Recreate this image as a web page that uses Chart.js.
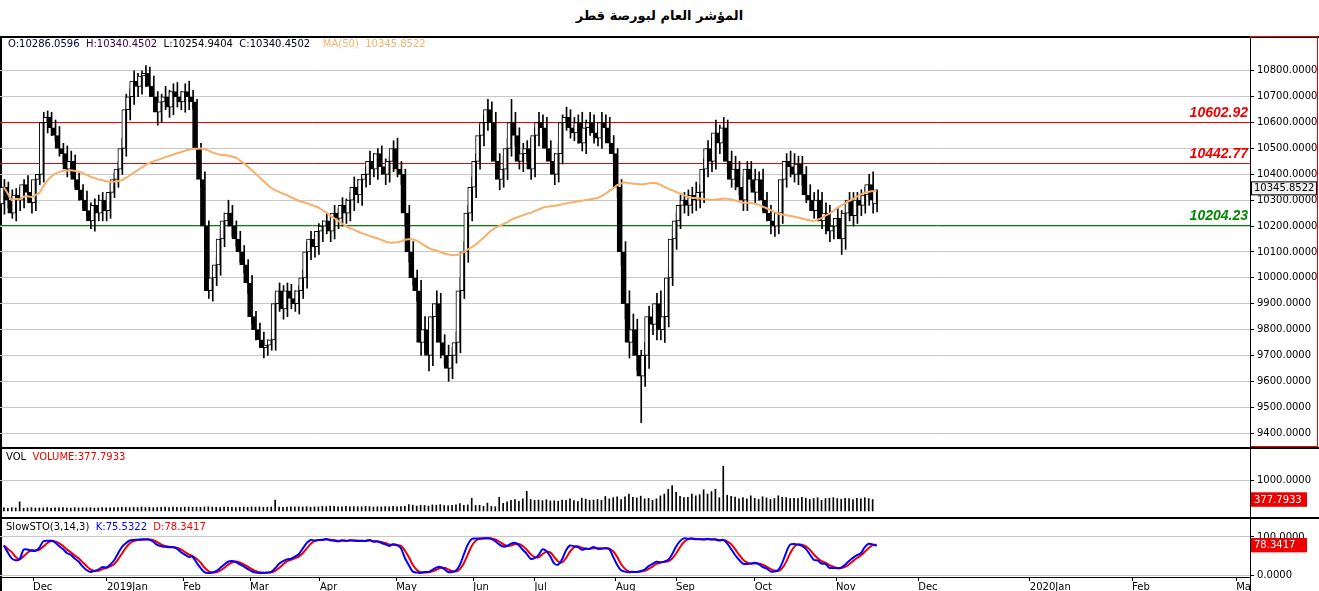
<!DOCTYPE html>
<html><head><meta charset="utf-8">
<script src="https://cdn.jsdelivr.net/npm/chart.js@4/dist/chart.umd.min.js"></script>
<style>
body{margin:0;width:1319px;height:591px;background:#fff;position:relative;overflow:hidden;font-family:Tahoma,"DejaVu Sans",sans-serif}
.cv{position:absolute;left:0;width:1319px}
.txt{position:absolute;font-size:10px;white-space:pre}
.hl{position:absolute;background:#000}
</style></head><body>
<div class="txt" style="left:0;width:1319px;top:8px;text-align:center;font-size:13px;font-weight:bold;font-family:'DejaVu Sans',sans-serif">المؤشر العام لبورصة قطر</div>
<div style="position:absolute;left:0;top:36px;width:1319px;height:2px;background:#000"></div>
<div style="position:absolute;left:1250px;top:36px;width:68px;height:411px;border:1px solid #e00;box-sizing:border-box"></div>
<div class="hl" style="left:0;top:447px;width:1319px;height:2px"></div>
<div class="hl" style="left:0;top:517px;width:1319px;height:2px"></div>
<div class="hl" style="left:0;top:36px;width:2px;height:555px"></div>
<div style="position:absolute;left:0;top:38px;height:409px" class="cv"><canvas id="c1"></canvas></div>
<div style="position:absolute;left:0;top:449px;height:68px" class="cv"><canvas id="c2"></canvas></div>
<div style="position:absolute;left:0;top:519px;height:72px" class="cv"><canvas id="c3"></canvas></div>
<div class="txt" style="left:8px;top:38px"><span style="color:#000040">O:10286.0596</span>  <span style="color:#400040">H:10340.4502</span>  <span>L:10254.9404</span>  <span style="color:#000020">C:10340.4502</span>    <span style="color:#f7b06a">MA(50)  10345.8522</span></div>
<div class="txt" style="left:6px;top:451px">VOL  <span style="color:#e00">VOLUME:377.7933</span></div>
<div class="txt" style="left:6px;top:521px">SlowSTO(3,14,3)  <span style="color:#00f">K:75.5322</span>  <span style="color:#e00">D:78.3417</span></div>
<script>
const closes=[10350,10300,10250,10320,10300,10360,10330,10290,10380,10400,
10600,10620,10580,10550,10500,10480,10420,10450,10380,10340,10300,10260,10220,10280,10250,
10300,10260,10330,10380,10420,10500,10650,10700,10760,10740,10780,10790,10740,10700,10640,
10680,10700,10660,10720,10700,10680,10720,10700,10680,10500,10380,10200,9950,10000,
10050,10150,10220,10250,10200,10150,10100,10050,9980,9850,9800,9760,9730,9740,9760,
9900,9950,9880,9950,9920,9900,9950,10000,10100,10150,10120,10180,
10200,10220,10180,10250,10230,10280,10250,10300,10350,10320,10380,10400,10450,10420,10480,10430,
10400,10450,10500,10420,10400,10250,10100,10000,9950,
9750,9800,9700,9850,9900,9750,9700,9650,9700,9750,9950,10100,10250,10350,10450,10550,10600,10650,
10600,10450,10380,10420,10500,10600,10550,10450,10480,10500,10420,10550,10600,10580,10500,10450,10400,10480,
10600,10620,10580,10560,10600,10520,10580,10600,10560,10540,10600,10580,10520,10480,10350,10100,9900,
9750,9800,9700,9620,9700,9850,9820,9900,9800,9850,10000,10150,10220,10280,
10300,10280,10320,10300,10330,10420,10500,10450,10560,10520,10580,10450,10380,10420,10350,10300,
10420,10380,10330,10380,10300,10250,10220,10200,10250,10380,10450,10430,10400,10440,
10400,10320,10300,10260,10300,10220,10250,10180,10200,10230,10150,10250,10300,
10240,10300,10280,10320,10360,10300,10340];
const wickUp=[30,20,40,25,30,20,35,40,20,30,40,25,20,30,35,20,30,40,25,30,20,35,30,25,40,
30,20,35,25,30,40,60,30,40,30,20,30,25,40,20,30,40,25,30,35,20,30,40,25,10,20,30,20,40,
30,40,30,50,30,20,30,25,20,30,20,25,30,20,30,40,30,20,30,25,30,20,30,40,30,20,30,
20,30,25,30,20,30,25,30,40,30,20,30,40,30,20,30,30,20,30,40,30,20,30,40,30,
40,50,30,40,50,40,30,40,30,40,50,40,30,40,30,40,30,40,
30,40,30,50,40,90,40,30,40,30,40,30,40,30,40,30,30,40,
30,40,30,40,30,40,30,40,30,20,40,30,40,30,20,30,40,
50,60,40,20,50,40,30,40,50,40,30,40,30,40,30,
40,30,50,30,40,30,40,50,30,40,30,40,50,30,40,30,
30,40,30,40,30,30,20,20,30,30,40,50,30,30,
30,40,30,40,30,40,30,30,40,30,40,30,30,
30,40,30,40,50,30,0];
const wickDn=[40,30,20,30,40,30,20,40,30,20,30,40,30,20,30,40,30,20,30,40,30,20,30,40,30,
30,40,30,20,30,20,30,40,30,40,30,40,30,40,50,40,30,40,30,40,30,40,50,30,40,30,40,30,40,
30,40,30,20,40,30,40,30,40,30,40,30,40,30,20,40,30,40,30,40,30,40,30,40,30,40,30,
40,30,40,30,40,30,40,30,40,30,40,30,40,30,40,30,40,30,40,30,40,50,40,30,40,
50,40,60,40,30,60,40,50,40,30,40,30,40,30,40,30,40,30,
40,30,40,30,40,30,40,30,40,30,40,30,40,30,40,30,40,30,
40,30,40,30,40,30,40,30,40,30,40,30,40,30,40,50,60,
60,50,60,180,40,50,40,60,40,50,40,30,40,30,
30,40,30,40,30,40,30,40,30,40,30,40,30,40,30,40,
40,30,40,30,40,30,50,40,30,40,30,40,30,40,
40,30,40,30,40,30,50,40,30,40,60,40,30,
40,30,40,30,40,50,85];
const volumes=[100,90,110,100,300,90,100,110,95,100,100,110,95,105,100,110,100,95,110,100,105,100,110,95,100,
110,105,100,115,110,120,115,110,120,115,130,115,120,110,115,120,125,110,130,120,115,125,130,120,
125,120,130,135,125,120,115,125,130,120,115,125,130,120,135,125,130,120,125,130,360,
130,120,125,140,130,135,130,140,125,135,130,150,140,160,150,140,135,150,140,145,
140,135,150,145,130,140,135,145,140,150,140,145,150,210,190,160,190,180,160,200,190,210,180,170,190,
200,240,190,200,420,180,190,150,
260,150,140,450,250,300,350,380,320,400,650,380,350,360,340,370,330,340,
320,360,350,400,340,310,420,390,350,360,380,350,480,400,440,470,380,
470,560,450,430,490,400,420,350,400,500,560,720,840,620,480,440,450,560,500,
540,700,560,640,720,440,1480,520,480,460,400,
440,400,500,420,380,470,430,380,410,500,450,440,410,420,
410,450,420,380,410,440,350,410,420,440,410,390,420,
410,380,420,400,440,410,378];
const maPeriod=50;
const levels=[10602.92,10442.77,10204.23];
const levelColors=['#e00','#e00','#080'];
const monthTicks=[7.4,26.2,45.6,62.6,80.4,99.8,119.4,135,155.7,171,191,211.7,232.6,261,287,313.5];
const monthLabels=['Dec','2019Jan','Feb','Mar','Apr','May','Jun','Jul','Aug','Sep','Oct','Nov','Dec','2020Jan','Feb','Ma'];

const N=closes.length;
const opens=closes.map((c,i)=>i===0?10286:closes[i-1]);
const highs=closes.map((c,i)=>Math.max(c,opens[i])+wickUp[i]);
const lows=closes.map((c,i)=>Math.min(c,opens[i])-wickDn[i]);
opens[N-1]=10286.0596; highs[N-1]=10340.4502; lows[N-1]=10254.9404; closes[N-1]=10340.4502;
const ma=closes.map((c,i)=>{const s=closes.slice(Math.max(0,i-maPeriod+1),i+1);return s.reduce((a,b)=>a+b,0)/s.length;});
const raw=closes.map((c,i)=>{const hh=Math.max(...highs.slice(Math.max(0,i-13),i+1)),ll=Math.min(...lows.slice(Math.max(0,i-13),i+1));return (c-ll)/(hh-ll)*100;});
const sma=(a,n)=>a.map((v,i)=>{const s=a.slice(Math.max(0,i-n+1),i+1);return s.reduce((x,y)=>x+y,0)/s.length;});
const kLine=sma(raw,3), dLine=sma(kLine,3);

Chart.defaults.font.family='Tahoma, "DejaVu Sans", sans-serif';
Chart.defaults.font.size=10;
Chart.defaults.color='#000';
Chart.defaults.animation=false;
Chart.defaults.responsive=true;
Chart.defaults.maintainAspectRatio=false;

const xScale=(show)=>({type:'linear',min:-1,max:317,display:show,offset:false,
  grid:{drawOnChartArea:false,color:'#000',tickLength:4},border:{color:'#000'},
  afterBuildTicks:s=>{s.ticks=monthTicks.map(v=>({value:v}));},
  ticks:{autoSkip:false,maxRotation:0,align:'start',padding:0,callback:(v)=>monthLabels[monthTicks.indexOf(v)]||'',font:{size:10}},
  afterFit:s=>{s.height=show?14:0;s.paddingLeft=0;s.paddingRight=0;}});
const yScale=(min,max,tks)=>({position:'right',min,max,
  afterBuildTicks:s=>{s.ticks=tks.map(v=>({value:v}));},
  afterFit:s=>{s.width=69;s.paddingTop=0;s.paddingBottom=0;},
  grid:{color:'#c8c8c8',borderDash:[4,3],drawTicks:true,tickLength:4,tickColor:'#000'},
  border:{color:'#000',display:true},
  ticks:{padding:3,callback:v=>v.toFixed(4),font:{size:10}}});
const frame={id:'frame',afterDraw(ch){const a=ch.chartArea,c=ch.ctx;c.save();c.strokeStyle='#000';c.lineWidth=1;c.beginPath();c.moveTo(a.right+0.5,0);c.lineTo(a.right+0.5,ch.height);c.stroke();c.restore();}};
const valBox=(val,fill,tc,border,w)=>({id:'vb'+Math.random(),afterDraw(ch){const y=ch.scales.y.getPixelForValue(val),a=ch.chartArea,c=ch.ctx;c.save();
  c.fillStyle=fill;c.fillRect(a.right+1,y-7,w,14);c.strokeStyle=border;c.strokeRect(a.right+1.5,y-6.5,w-1,13);
  c.fillStyle=tc;c.font='10px Tahoma, "DejaVu Sans", sans-serif';c.textBaseline='middle';c.fillText(val.toFixed(4),a.right+4,y+0.5);c.restore();}});

const idx=closes.map((c,i)=>i);
new Chart(document.getElementById('c1'),{type:'bar',
  data:{datasets:[
   {type:'line',data:idx.map(i=>({x:i,y:ma[i]})),borderColor:'#f7b06a',borderWidth:2,pointRadius:0,tension:0.4,order:0},
   {data:idx.map(i=>({x:i,y:[opens[i],closes[i]]})),backgroundColor:idx.map(i=>closes[i]>=opens[i]?'#fff':'#000'),borderColor:'#000',borderWidth:1,borderSkipped:false,barThickness:4,minBarLength:1,order:1},
   {data:idx.map(i=>({x:i,y:[lows[i],highs[i]]})),backgroundColor:'#000',barThickness:1,borderWidth:0,order:2}
  ]},
  options:{layout:{padding:0},plugins:{legend:{display:false},tooltip:{enabled:false}},
   scales:{x:xScale(false),y:yScale(9346,10927,[9400,9500,9600,9700,9800,9900,10000,10100,10200,10300,10400,10500,10600,10700,10800])}},
  plugins:[frame,{id:'lv',beforeDatasetsDraw(ch){const a=ch.chartArea,c=ch.ctx;c.save();levels.forEach((v,k)=>{const y=Math.round(ch.scales.y.getPixelForValue(v))+0.5;c.strokeStyle=levelColors[k];c.lineWidth=1;c.beginPath();c.moveTo(a.left,y);c.lineTo(a.right,y);c.stroke();
     c.fillStyle=levelColors[k];c.font='italic bold 14px "Liberation Sans", Arial, sans-serif';c.textAlign='right';c.textBaseline='bottom';c.fillText(v.toFixed(2),a.right-2,y-2);});c.restore();}},
   valBox(10345.8522,'#f0f0f0','#000','#000',66)]
});
new Chart(document.getElementById('c2'),{type:'bar',
  data:{datasets:[{data:idx.map(i=>({x:i,y:volumes[i]})),backgroundColor:'#000',barThickness:1}]},
  options:{layout:{padding:0},plugins:{legend:{display:false},tooltip:{enabled:false}},
   scales:{x:xScale(false),y:yScale(-200,2050,[1000])}},
  plugins:[frame,valBox(377.7933,'#e00','#fff','#e00',56)]});
new Chart(document.getElementById('c3'),{type:'line',
  data:{datasets:[
   {data:idx.map(i=>({x:i,y:kLine[i]})),borderColor:'#00f',borderWidth:2,pointRadius:0,tension:0.3},
   {data:idx.map(i=>({x:i,y:dLine[i]})),borderColor:'#e00',borderWidth:2,pointRadius:0,tension:0.3}]},
  options:{layout:{padding:0},plugins:{legend:{display:false},tooltip:{enabled:false}},
   scales:{x:xScale(true),y:yScale(-5,147,[0,100])}},
  plugins:[frame,valBox(78.3417,'#e00','#fff','#e00',56)]});
</script></body></html>
